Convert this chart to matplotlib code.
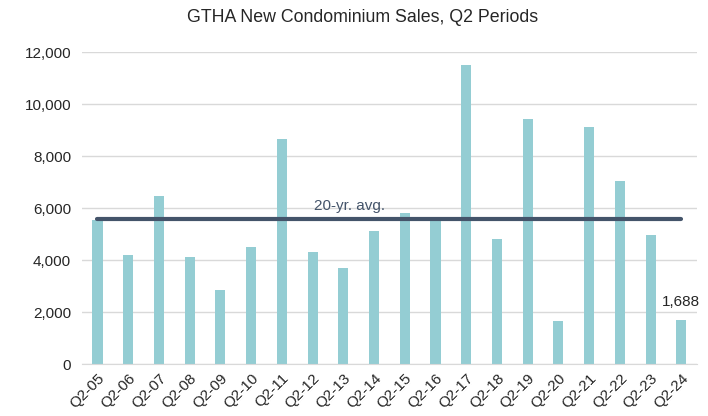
import numpy as np
import matplotlib.pyplot as plt

plt.rcParams['font.family'] = ['Liberation Sans', 'DejaVu Sans']

periods = ['Q2-05', 'Q2-06', 'Q2-07', 'Q2-08', 'Q2-09', 'Q2-10', 'Q2-11', 'Q2-12',
           'Q2-13', 'Q2-14', 'Q2-15', 'Q2-16', 'Q2-17', 'Q2-18', 'Q2-19', 'Q2-20',
           'Q2-21', 'Q2-22', 'Q2-23', 'Q2-24']
sales = [5556, 4205, 6469, 4115, 2829, 4501, 8655, 4321, 3691, 5118,
         5826, 5491, 11497, 4823, 9414, 1640, 9105, 7034, 4977, 1688]
avg_20yr = 5560

bar_color = '#94cdd3'
avg_color = '#44546a'

fig = plt.figure(figsize=(7.08, 4.16), dpi=100)
ax = fig.add_axes([0.116, 0.125, 0.868, 0.75])

x = np.arange(len(periods))
ax.bar(x, sales, width=0.33, color=bar_color, zorder=2)
ax.plot(x, [avg_20yr] * len(x), color=avg_color, linewidth=3, solid_capstyle='round', zorder=3)

ax.text(8.2, avg_20yr + 520, '20-yr. avg.', ha='center', va='center',
        fontsize=11, color=avg_color)
ax.annotate(f'{sales[-1]:,}', xy=(x[-1], sales[-1]), xytext=(0, 8),
            textcoords='offset points', ha='center', va='bottom', fontsize=11, color='#262626')

ax.set_xlim(-0.5, len(periods) - 0.5)
ax.set_ylim(0, 12000)
ax.set_yticks(np.arange(0, 12001, 2000))
ax.yaxis.set_major_formatter(plt.FuncFormatter(lambda v, p: f'{int(v):,}'))
ax.set_xticks(x)
ax.set_xticklabels(periods, rotation=45, ha='right', rotation_mode='anchor')

ax.grid(axis='y', color='#d9d9d9', linewidth=1, zorder=0)
ax.set_axisbelow(True)
for s in ['top', 'right', 'left']:
    ax.spines[s].set_visible(False)
ax.spines['bottom'].set_color('#d9d9d9')
ax.tick_params(axis='both', length=0, labelsize=11, colors='#262626')
ax.tick_params(axis='y', pad=8)
ax.tick_params(axis='x', pad=5)

fig.text(0.512, 0.958, 'GTHA New Condominium Sales, Q2 Periods', ha='center', va='center',
         fontsize=12.8, color='#262626')

plt.savefig('out.png', dpi=100)
